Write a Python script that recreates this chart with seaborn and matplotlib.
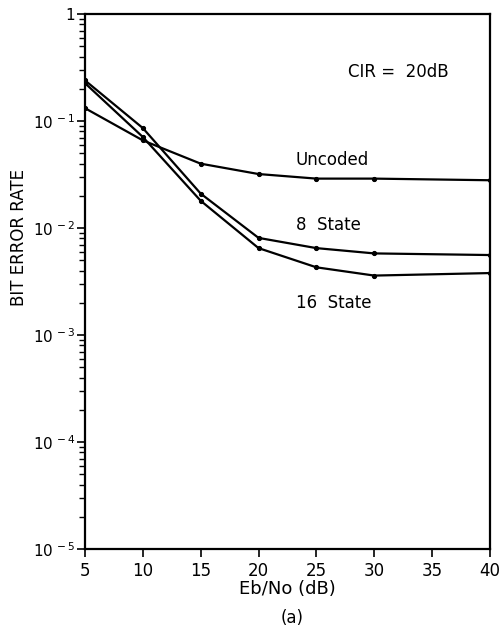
import numpy as np
import pandas as pd
import matplotlib
matplotlib.use("Agg")
import matplotlib.pyplot as plt
import matplotlib.ticker as mticker
import seaborn as sns

# Eb/No points and BER values (CIR = 20 dB)
ebno = [5, 10, 15, 20, 25, 30, 40]
ber_uncoded = [0.132, 0.066, 0.040, 0.032, 0.029, 0.029, 0.028]
ber_8state = [0.24, 0.086, 0.021, 0.0081, 0.0065, 0.0058, 0.0056]
ber_16state = [0.226, 0.071, 0.018, 0.0065, 0.0043, 0.0036, 0.0038]
series_names = ["Uncoded", "8 State", "16 State"]

df = pd.DataFrame({
    "ebno": ebno * 3,
    "ber": ber_uncoded + ber_8state + ber_16state,
    "code": [n for n in series_names for _ in ebno],
})

sns.set_style("ticks")
plt.rcParams["font.family"] = ["DejaVu Sans"]
plt.rcParams["text.color"] = "black"
plt.rcParams["axes.labelcolor"] = "black"

fig = plt.figure(figsize=(5.03, 6.4), dpi=100)
ax = fig.add_axes([0.169, 0.142, 0.805, 0.836])

sns.lineplot(data=df, x="ebno", y="ber", hue="code", ax=ax,
             palette=["black"] * 3, marker="o", markersize=3,
             markeredgecolor="black", linewidth=1.6, legend=False)

ax.set_yscale("log")
ax.set_xlim(5, 40)
ax.set_ylim(1e-5, 1)
ax.set_xticks([5, 10, 15, 20, 25, 30, 35, 40])


def ylab(v, pos):
    e = int(round(np.log10(v)))
    if e == 0:
        return "1"
    return r"10$^{\,%d}$" % e


ax.yaxis.set_major_locator(mticker.LogLocator(base=10, numticks=10))
ax.yaxis.set_major_formatter(mticker.FuncFormatter(ylab))
ax.yaxis.set_minor_locator(mticker.LogLocator(base=10, subs=np.arange(2, 10), numticks=10))
ax.yaxis.set_minor_formatter(mticker.NullFormatter())

ax.tick_params(axis="both", which="major", direction="out", length=6,
               width=1.2, labelsize=12, colors="black")
ax.tick_params(axis="y", which="major", labelsize=11, pad=1)
ax.tick_params(axis="y", which="minor", direction="out", length=4, width=1.0,
               colors="black")
for s in ax.spines.values():
    s.set_linewidth(1.6)
    s.set_color("black")

ax.set_xlabel("Eb/No (dB)", fontsize=13, labelpad=0)
ax.set_ylabel("BIT ERROR RATE", fontsize=12)
ax.yaxis.set_label_coords(-0.14, 0.583)

ax.text(27.7, 0.29, "CIR =  20dB", fontsize=12, va="center")
ax.text(23.2, 0.043, "Uncoded", fontsize=12, va="center")
ax.text(23.2, 0.0107, "8  State", fontsize=12, va="center")
ax.text(23.2, 0.002, "16  State", fontsize=12, va="center")

fig.text(0.58, 0.035, "(a)", fontsize=12, ha="center", va="center")

fig.savefig("out.png", dpi=100)
